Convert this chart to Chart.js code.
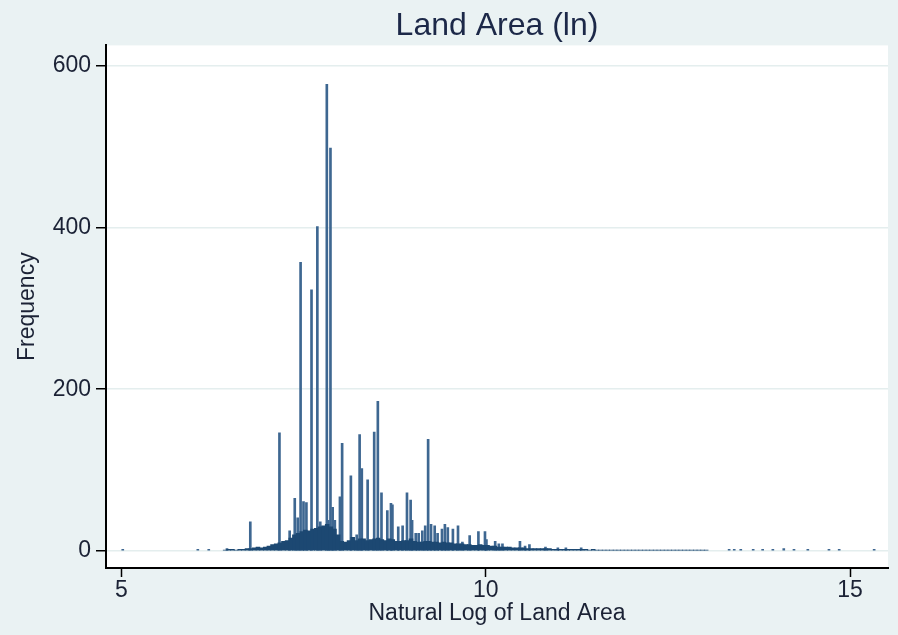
<!DOCTYPE html>
<html>
<head>
<meta charset="utf-8">
<title>Land Area (ln)</title>
<script src="https://cdn.jsdelivr.net/npm/chart.js@4/dist/chart.umd.min.js"></script>
<style>
  html, body { margin: 0; padding: 0; background: #eaf2f3; }
</style>
</head>
<body>
<canvas id="histChart" width="898" height="635"></canvas>
<script>
// Body of the histogram: counts per bin, starting at binStart
const binStart = 6.40;
const binWidth = 0.05;
const binCounts = [
    1, 2, 2, 1, 2, 2, 3, 3, 4, 5,          // 6.40 - 6.85
    4, 5, 6, 8, 9, 10, 12, 13, 16, 20,     // 6.90 - 7.35
    22, 24, 26, 25, 27, 28, 30, 31, 33, 30, // 7.40 - 7.85
    27, 20, 12, 11, 13, 17, 13, 15, 15, 13, // 7.90 - 8.35
    14, 15, 16, 14, 13, 15, 14, 12, 12, 13, // 8.40 - 8.85
    13, 15, 12, 11, 11, 12, 12, 11, 11, 10, // 8.90 - 9.35
    11, 10, 10, 9, 9, 9, 8, 8, 7, 7,        // 9.40 - 9.85
    8, 7, 7, 6, 6, 5, 5, 5, 5, 4,           // 9.90 - 10.35
    4, 4, 4, 3, 3, 3, 3, 3, 3, 3,           // 10.40 - 10.85
    2, 2, 2, 2, 2, 2, 2, 2, 2, 2,           // 10.90 - 11.35
    1, 2, 1, 1, 1, 1, 1, 1, 1, 1,           // 11.40 - 11.85
    1, 1, 1, 1, 1, 1, 1, 1, 1, 1,           // 11.90 - 12.35
    1, 1, 1, 1, 1, 1, 1, 1, 1, 1,           // 12.40 - 12.85
    1, 1, 1                                 // 12.90 - 13.00
];

// Heaped values that stand out above the body, plus the isolated tails
const spikeValues = [
    5.02, 6.05, 6.20, 6.45,
    6.77, 7.17, 7.31, 7.38, 7.42, 7.46, 7.50, 7.54, 7.61, 7.69,
    7.73, 7.82, 7.84, 7.87, 7.90, 7.93, 8.00, 8.03, 8.15, 8.23,
    8.27, 8.30, 8.38, 8.47, 8.52, 8.57, 8.65, 8.70, 8.72, 8.80,
    8.86, 8.92, 8.97, 8.99, 9.04, 9.08, 9.13, 9.17, 9.21, 9.25,
    9.30, 9.34, 9.40, 9.44, 9.48, 9.55, 9.62, 9.68, 9.78, 9.90,
    9.99, 10.01, 10.13, 10.18, 10.23, 10.47, 10.54, 10.60, 10.82, 10.99,
    11.10, 11.31,
    13.34, 13.41, 13.50, 13.67, 13.80, 13.94, 14.09, 14.23, 14.42, 14.71,
    14.85, 15.33
];
const spikeCounts = [
    2, 2, 2, 3,
    36, 146, 25, 65, 41, 357, 61, 60, 323, 401,
    36, 577, 38, 498, 54, 38, 67, 133, 93, 20,
    144, 102, 88, 147, 185, 72, 50, 59, 57, 30,
    31, 72, 63, 38, 22, 22, 25, 31, 138, 33,
    31, 22, 27, 33, 29, 27, 31, 11, 19, 24,
    24, 14, 12, 9, 9, 12, 6, 8, 5, 4,
    4, 4,
    2, 2, 2, 2, 2, 2, 3, 2, 2, 2,
    2, 2
];

const xTicks = [5, 10, 15];
const yTicks = [0, 200, 400, 600];

const FONT = 'Liberation Sans, Arial, sans-serif';
const TEXT = '#1b2235';

const bodyData = binCounts.map((c, i) => ({ x: binStart + binWidth * (i + 0.5), y: c }));
const spikeData = spikeValues.map((v, i) => ({ x: v, y: spikeCounts[i] }));

// Light frame around a white plot region
const plotBackground = {
    id: 'plotBackground',
    beforeDraw(chart) {
        const { ctx, chartArea: a } = chart;
        ctx.save();
        ctx.fillStyle = '#eaf2f3';
        ctx.fillRect(0, 0, chart.width, chart.height);
        ctx.fillStyle = '#ffffff';
        ctx.fillRect(a.left, a.top, a.right - a.left, a.bottom - a.top);
        ctx.restore();
    }
};

new Chart(document.getElementById('histChart'), {
    type: 'bar',
    data: {
        datasets: [
            {
                label: 'body',
                data: bodyData,
                backgroundColor: '#1c4872',
                borderWidth: 0,
                barThickness: 3.9,
                grouped: false
            },
            {
                label: 'spikes',
                data: spikeData,
                backgroundColor: '#3e6791',
                borderWidth: 0,
                barThickness: 2,
                grouped: false
            }
        ]
    },
    options: {
        responsive: false,
        animation: false,
        layout: { padding: { top: 0, right: 10, bottom: 0, left: 0 } },
        scales: {
            x: {
                type: 'linear',
                min: 4.79,
                max: 15.52,
                offset: false,
                afterBuildTicks: (axis) => { axis.ticks = xTicks.map(v => ({ value: v })); },
                afterFit: (axis) => { axis.height = 67; },
                grid: { offset: false, drawOnChartArea: false, drawTicks: true, tickLength: 9, tickColor: '#000', tickWidth: 1.5 },
                border: { display: true, color: '#000', width: 2 },
                ticks: { color: TEXT, font: { family: FONT, size: 23 }, padding: 0, maxRotation: 0 },
                title: {
                    display: true,
                    text: 'Natural Log of Land Area',
                    color: TEXT,
                    font: { family: FONT, size: 23 },
                    padding: { top: 0, bottom: 8 }
                }
            },
            y: {
                min: -21,
                max: 625,
                afterBuildTicks: (axis) => { axis.ticks = yTicks.map(v => ({ value: v })); },
                afterFit: (axis) => { axis.width = 106; },
                grid: { color: '#e4eeee', lineWidth: 1.5, tickLength: 10, tickColor: '#000', tickWidth: 1.5 },
                border: { display: true, color: '#000', width: 2 },
                ticks: { color: TEXT, font: { family: FONT, size: 23 }, padding: 5 },
                title: {
                    display: true,
                    text: 'Frequency',
                    color: TEXT,
                    font: { family: FONT, size: 23 },
                    padding: { top: 14, bottom: 0 }
                }
            }
        },
        plugins: {
            legend: { display: false },
            tooltip: { enabled: false },
            title: {
                display: true,
                text: 'Land Area (ln)',
                fullSize: false,
                color: '#1c2848',
                font: { family: FONT, size: 32, weight: 'normal' },
                padding: { top: 7, bottom: 0 }
            }
        }
    },
    plugins: [plotBackground]
});
</script>
</body>
</html>
